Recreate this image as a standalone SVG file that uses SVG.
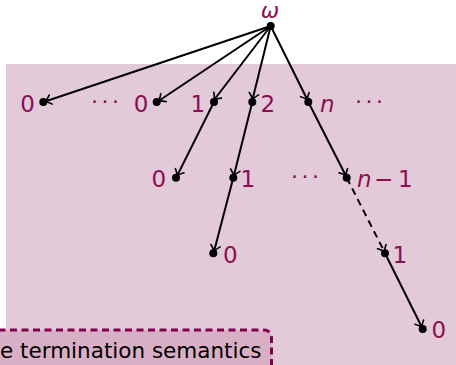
<svg xmlns="http://www.w3.org/2000/svg" width="456" height="365" viewBox="0 0 456 365">
<style>
.lbl{font-family:"DejaVu Sans",sans-serif;font-size:23px;fill:#8a0e54}
.it{font-style:italic}
.ell{font-family:"DejaVu Sans",sans-serif;font-size:22px;fill:#8a0e54;letter-spacing:3.5px}
.dot{fill:#000}
.e{stroke:#000;stroke-width:2;fill:none;marker-end:url(#to)}
.d{stroke-dasharray:7 5}
.note{font-family:"DejaVu Sans",sans-serif;font-size:21.5px;fill:#000}
</style>
<defs>
<marker id="to" markerUnits="userSpaceOnUse" viewBox="-8 -6 10 12" refX="0" refY="0" markerWidth="10" markerHeight="12" orient="auto">
<path d="M -6,-4.8 Q -2,-0.7 0,0 Q -2,0.7 -6,4.8" stroke="#000" stroke-width="1.6" fill="none" stroke-linecap="round"/>
</marker>
</defs>
<rect x="6" y="64" width="460" height="310" fill="#e3cad8"/>
<g id="edges">
<line class="e" x1="270.7" y1="26" x2="45" y2="101.5"/>
<line class="e" x1="270.7" y1="26" x2="158.5" y2="101"/>
<line class="e" x1="270.7" y1="26" x2="214" y2="100"/>
<line class="e" x1="270.7" y1="26" x2="252.5" y2="99.5"/>
<line class="e" x1="270.7" y1="26" x2="307.5" y2="100"/>
<line class="e" x1="214" y1="102" x2="177" y2="176"/>
<line class="e" x1="252.3" y1="102" x2="233.8" y2="176"/>
<line class="e" x1="308.3" y1="102" x2="346" y2="176"/>
<line class="e" x1="233.3" y1="177.7" x2="214" y2="251.5"/>
<line class="e d" x1="346.7" y1="177.7" x2="384.5" y2="252"/>
<line class="e" x1="385" y1="253.3" x2="422" y2="327.5"/>
</g>
<g id="omega"><circle class="dot" cx="270.7" cy="26" r="4"/><text class="lbl it" x="270" y="17.5" text-anchor="middle" style="font-size:22px">ω</text></g>
<g id="n1"><circle class="dot" cx="43.3" cy="102" r="4"/><text class="lbl" x="20.3" y="111.5">0</text></g>
<text class="ell" x="91" y="108.5">···</text>
<g id="n2"><circle class="dot" cx="156.7" cy="102" r="4"/><text class="lbl" x="133.7" y="111.5">0</text></g>
<g id="n3"><circle class="dot" cx="214" cy="102" r="4"/><text class="lbl" x="190.5" y="111.5">1</text></g>
<g id="n4"><circle class="dot" cx="252.3" cy="102" r="4"/><text class="lbl" x="260.5" y="111.5">2</text></g>
<g id="n5"><circle class="dot" cx="308.3" cy="102" r="4"/><text class="lbl it" x="320" y="111.5">n</text></g>
<text class="ell" x="355" y="108.5">···</text>
<g id="n6"><circle class="dot" cx="176" cy="177.7" r="4"/><text class="lbl" x="151.5" y="187">0</text></g>
<g id="n7"><circle class="dot" cx="233.3" cy="177.7" r="4"/><text class="lbl" x="240.5" y="187">1</text></g>
<text class="ell" x="291" y="184">···</text>
<g id="n8"><circle class="dot" cx="346.7" cy="177.7" r="4"/><text class="lbl" y="187"><tspan class="it" x="357">n</tspan><tspan x="374">−</tspan><tspan x="398">1</tspan></text></g>
<g id="n9"><circle class="dot" cx="213.3" cy="253.3" r="4"/><text class="lbl" x="223" y="262.5">0</text></g>
<g id="n10"><circle class="dot" cx="385" cy="253.3" r="4"/><text class="lbl" x="392.5" y="262.5">1</text></g>
<g id="n11"><circle class="dot" cx="422.7" cy="329" r="4"/><text class="lbl" x="431.5" y="338">0</text></g>
<g id="note">
<rect x="-20" y="330" width="291.5" height="60" rx="7" fill="#d8afc5" stroke="#800050" stroke-width="3" stroke-dasharray="7 4.5"/>
<text class="note" x="0" y="357.5">e termination semantics</text>
</g>
</svg>
